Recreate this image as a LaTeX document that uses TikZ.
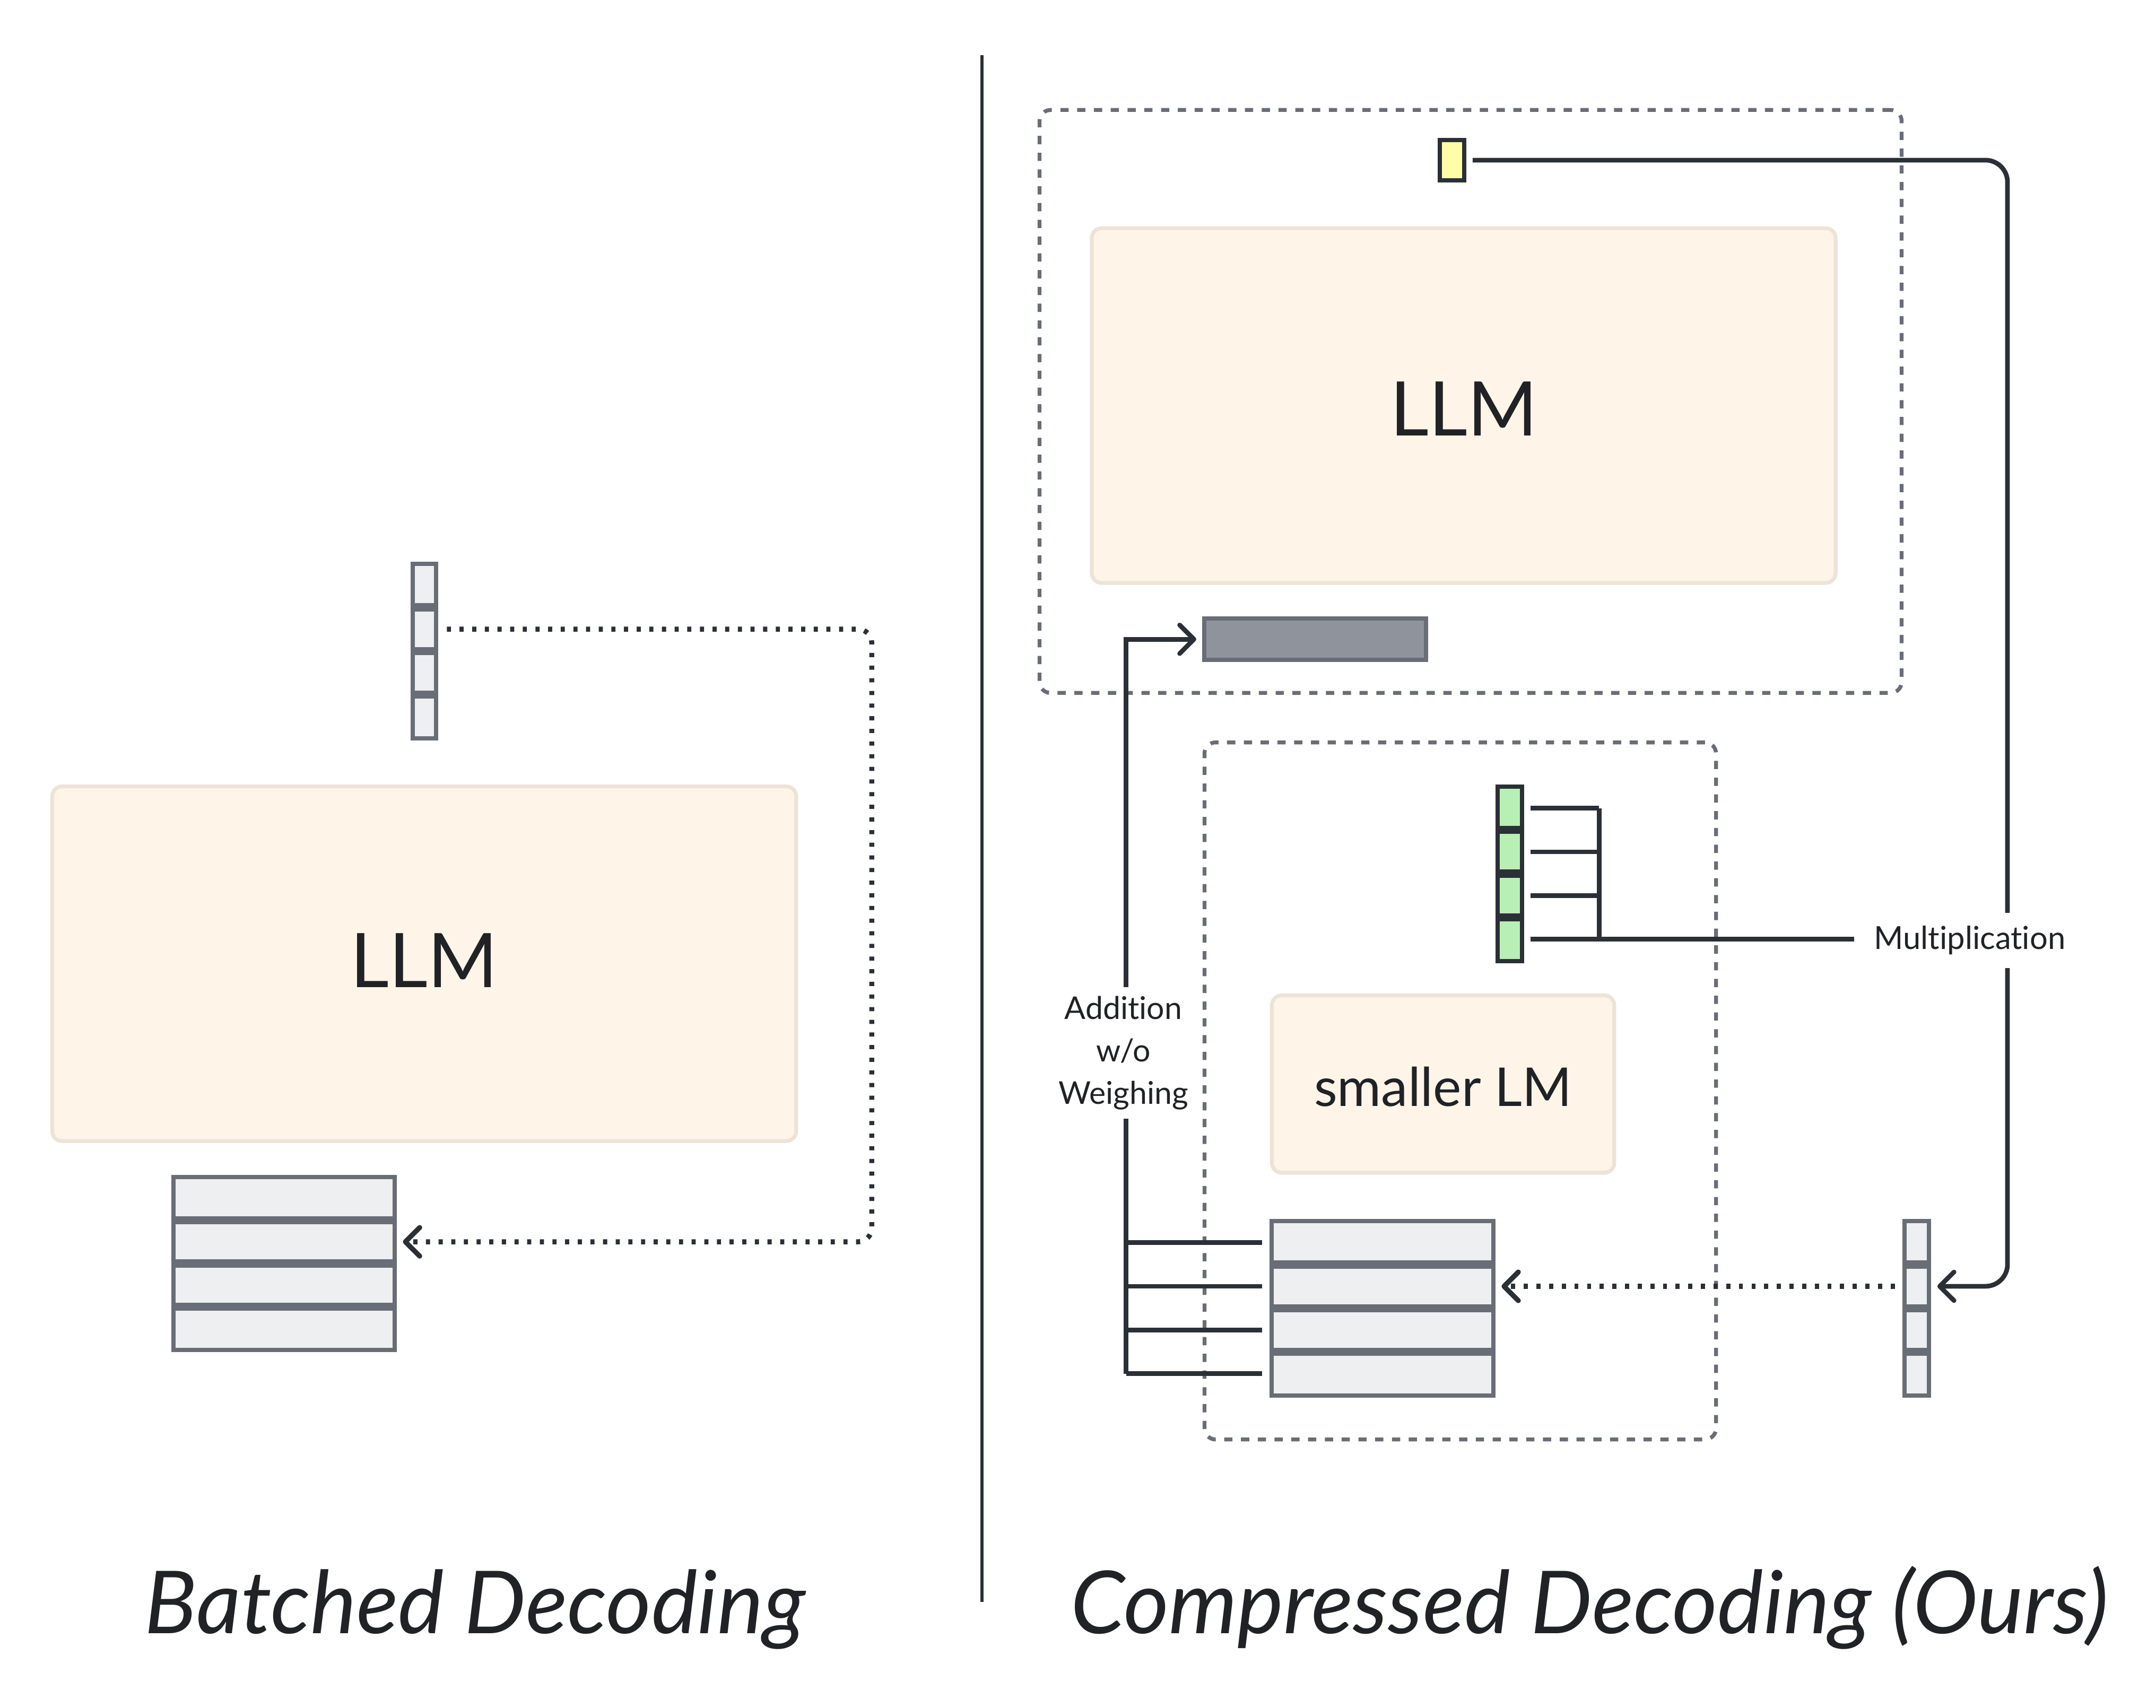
\documentclass[tikz,border=0pt]{standalone}
\usepackage{fontspec}
\setmainfont{Lato}[Ligatures={NoCommon}]
\usetikzlibrary{arrows.meta,fit}
\definecolor{cream}{HTML}{FEF5E8}
\definecolor{creamb}{HTML}{EDE3D6}
\definecolor{cellf}{HTML}{EEEFF1}
\definecolor{cellb}{HTML}{686D76}
\definecolor{dark}{HTML}{2B2F36}
\definecolor{greenf}{HTML}{B8EFB4}
\definecolor{yellowf}{HTML}{FFFDA8}
\definecolor{barf}{HTML}{8E939C}
\definecolor{txt}{HTML}{202226}
\newcommand{\vstack}[6]{%
  \foreach \k in {1,...,4}{%
    \node[#2, fit={(#3,{#5+(\k-1)*#6}) (#4,{#5+\k*#6})}] (#1-\k) {};
  }}
\begin{document}
\begin{tikzpicture}[x=0.25mm,y=-0.25mm,
  box/.style={inner sep=0pt, outer sep=0pt},
  llm/.style={box, fill=cream, draw=creamb, line width=2pt, rounded corners=1.8mm, text=txt},
  cell/.style={box, fill=cellf, draw=cellb, line width=2.2pt},
  gcell/.style={box, fill=greenf, draw=dark, line width=2.2pt},
  sepline/.style={line width=4.2pt, shorten <=-1.1pt, shorten >=-1.1pt},
  dashbox/.style={box, draw=cellb, line width=2pt, dash pattern=on 1.5mm off 1.55mm, rounded corners=2mm},
  conn/.style={draw=dark, line width=2.4pt},
  tip/.style={-{Straight Barb[length=2.6mm,width=5.2mm,line cap=round,line join=round]}},
  dotc/.style={conn, line width=2.6pt, dash pattern=on 0.75mm off 1.55mm},
  lab/.style={text=txt, fill=white, inner sep=0pt},
  bigfont/.style={font=\fontsize{39pt}{47pt}\selectfont},
  title/.style={text=txt, font=\fontsize{45pt}{54pt}\selectfont\itshape, anchor=base}
]
\useasboundingbox (0,0) rectangle (1568,1242);

% divider
\draw[dark, line width=1.6pt] (714,40) -- (714,1165);

% ---------------- left panel ----------------
\node[llm, fit={(38,572) (579,830)}] (llmL) {};
\node[text=txt, bigfont] at ([yshift=0.6mm]llmL.center) {LLM};
\vstack{vL}{cell}{300}{317}{410}{31.75}
\vstack{tL}{cell}{126}{287}{856}{31.5}
\foreach \k in {1,2,3}{
  \draw[sepline, cellb] (vL-\k.south west) -- (vL-\k.south east);
  \draw[sepline, cellb] (tL-\k.south west) -- (tL-\k.south east);
}
\coordinate (cL) at (634,903.25);
\draw[dotc, tip, rounded corners=2.5mm] ([xshift=2mm]vL-2.east) -| (cL) -- ([xshift=1.5mm]tL-2.east);

% ---------------- right panel ----------------
\node[dashbox, fit={(756,80) (1383,504)}] (outer) {};
\node[dashbox, fit={(876,540) (1248,1047)}] (inner) {};

\node[box, fill=yellowf, draw=dark, line width=2.2pt, fit={(1047,102) (1065,131)}] (yb) {};
\node[llm, fit={(794,166) (1335,424)}] (llmR) {};
\node[text=txt, bigfont] at ([yshift=-0.6mm]llmR.center) {LLM};
\node[box, fill=barf, draw=cellb, line width=2.2pt, fit={(876,450) (1037,480)}] (bar) {};

\vstack{gV}{gcell}{1089}{1107}{572}{31.75}
\node[llm, fit={(925,724) (1174,853)}] (slm) {};
\node[text=txt, font=\fontsize{27.7pt}{33pt}\selectfont] at ([yshift=-0.5mm]slm.center) {smaller LM};
\vstack{tR}{cell}{925}{1086}{888}{31.75}
\vstack{vR}{cell}{1385}{1403}{888}{31.75}
\foreach \k in {1,2,3}{
  \draw[sepline, dark] (gV-\k.south west) -- (gV-\k.south east);
  \draw[sepline, cellb] (tR-\k.south west) -- (tR-\k.south east);
  \draw[sepline, cellb] (vR-\k.south west) -- (vR-\k.south east);
}

% long connector from the yellow box to the right vector
\coordinate (cR) at (1460,935.6);
\draw[conn, tip, rounded corners=4mm] ([xshift=1.5mm]yb.east) -| (cR) -- ([xshift=1.5mm]vR-2.east);

% dotted copy into the table
\draw[dotc, tip] ([xshift=-1.75mm]vR-2.west) -- ([xshift=1.5mm]tR-2.east);

% multiplication bracket
\node[lab, font=\fontsize{16.4pt}{20pt}\selectfont, inner xsep=3.5mm, inner ysep=2.4mm] (mult) at (1432.5,684) {Multiplication};
\coordinate (bx) at (1163,0);
\foreach \k in {1,2,3,4}{
  \draw[conn] ([xshift=1.5mm]gV-\k.east) -- (gV-\k.east -| bx);
}
\draw[conn] (gV-1.east -| bx) -- (gV-4.east -| bx);
\draw[conn] ([xshift=1.5mm]gV-4.east) -- (gV-4.east -| mult.west);

% addition bracket
\coordinate (lx) at (819,0);
\foreach \k in {1,2,3,4}{
  \draw[conn] (tR-\k.west -| lx) -- ([xshift=-1.75mm]tR-\k.west);
}
\draw[conn, tip] (tR-4.west -| lx) |- ([xshift=-1.5mm]bar.west);
\node[lab, align=center, font=\fontsize{16.2pt}{22pt}\selectfont, inner xsep=1mm, inner ysep=1.6mm] (add) at (817,766) {Addition\\w/o\\Weighing};

% titles
\node[title] (t1) at (345.5,1188) {Batched Decoding};
\node[title] (t2) at (1156,1188) {Compressed Decoding (Ours)};
\end{tikzpicture}
\end{document}
